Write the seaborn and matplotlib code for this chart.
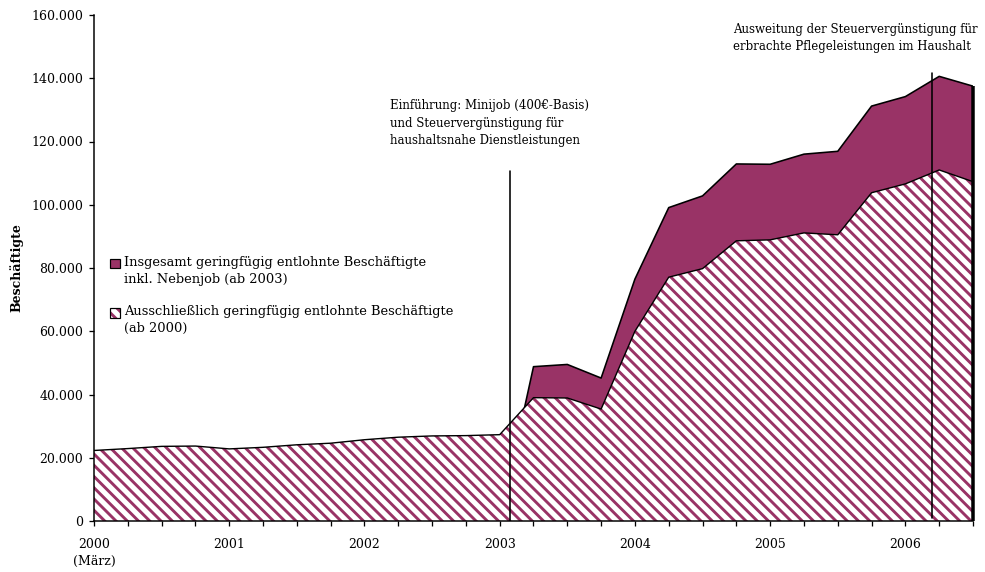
import numpy as np
import pandas as pd
import matplotlib
matplotlib.use("Agg")
import matplotlib.pyplot as plt
import matplotlib.colors as mcolors
from matplotlib.patches import Patch, Rectangle
from matplotlib.legend_handler import HandlerPatch
from matplotlib.ticker import FixedLocator, FuncFormatter
import seaborn as sns

# ---------------- data ----------------
quarters = [str(p) for p in pd.period_range("2000Q1", "2006Q3", freq="Q")]
ausschliesslich = [22300, 22900, 23600, 23700, 22800, 23300, 24100, 24600,
                   25700, 26500, 26900, 27000, 27300, 39000, 38900, 35400,
                   60000, 77100, 79800, 88600, 88900, 91100, 90500, 103800,
                   106600, 111000, 107300]
# total incl. side jobs, only from 2003 (first 2003 value plotted as 0 as in the source)
insgesamt = [np.nan] * 12 + [0, 48800, 49500, 45200, 76500, 99100, 102800,
                             112900, 112800, 116000, 116900, 131200, 134200,
                             140600, 137500]
year_labels = ["2000\n(März)", "2001", "2002", "2003", "2004", "2005", "2006"]
yticks = [0, 20000, 40000, 60000, 80000, 100000, 120000, 140000, 160000]
label_total = "Insgesamt geringfügig entlohnte Beschäftigte\ninkl. Nebenjob (ab 2003)"
label_excl = "Ausschließlich geringfügig entlohnte Beschäftigte\n(ab 2000)"
note1 = "Einführung: Minijob (400€-Basis)\nund Steuervergünstigung für\nhaushaltsnahe Dienstleistungen"
note2 = "Ausweitung der Steuervergünstigung für\nerbrachte Pflegeleistungen im Haushalt"
event_minijob = 2003.075
event_pflege = 2006.2

PLUM = "#993366"

# ---------------- style ----------------
DPI = 135
sns.set_theme(style="white")
plt.rcParams["font.family"] = ["DejaVu Serif"]
plt.rcParams["text.color"] = "black"
plt.rcParams["axes.labelcolor"] = "black"
plt.rcParams["hatch.linewidth"] = 1.55
plt.rcParams["hatch.color"] = PLUM

def px(v):
    return v * 72.0 / DPI

FS_TICK = px(12.5)
FS_NOTE = px(11.8)
FS_LEG = px(13.0)

per = pd.PeriodIndex(quarters, freq="Q")
x = per.year + (per.quarter - 1) / 4.0
df = pd.DataFrame({"x": x, "excl": ausschliesslich, "total": insgesamt})

fig = plt.figure(figsize=(985 / DPI, 572 / DPI), dpi=DPI)
ax = fig.add_axes([94 / 985, 1 - 521 / 572, (973 - 94) / 985, (521 - 15) / 572])

# total area (behind)
mt = df["total"].notna()
ax.fill_between(df["x"][mt], 0, df["total"][mt], facecolor=PLUM, edgecolor="none",
                linewidth=0, zorder=1)
sns.lineplot(data=df[mt], x="x", y="total", color="black", linewidth=px(1.6),
             ax=ax, zorder=2, legend=False)
# hatched area (front)
ax.fill_between(df["x"], 0, df["excl"], facecolor="white", edgecolor=PLUM,
                hatch="\\" * 4, linewidth=0, zorder=3)
sns.lineplot(data=df, x="x", y="excl", color="black", linewidth=px(1.4),
             ax=ax, zorder=4, legend=False)
# thick right edge of the area
xe = df["x"].iloc[-1]
ax.plot([xe, xe], [0, df["total"].iloc[-1]], color="black", linewidth=px(3.5),
        solid_capstyle="butt", zorder=5, clip_on=False)

# event lines
ax.plot([event_minijob, event_minijob], [0, 110700],
        color="black", linewidth=px(1.6), zorder=6)
ax.plot([event_pflege, event_pflege], [1000, 141700],
        color="black", linewidth=px(1.6), zorder=6)

ax.text(2002.19, 133300, note1, fontsize=FS_NOTE, va="top", ha="left",
        linespacing=1.45, zorder=7)
ax.text(2004.727, 157600, note2, fontsize=FS_NOTE, va="top", ha="left",
        linespacing=1.45, zorder=7)

# axes
ax.set_xlim(2000, 2006.5)
ax.set_ylim(0, 160000)
for s in ["top", "right"]:
    ax.spines[s].set_visible(False)
for s in ["left", "bottom"]:
    ax.spines[s].set_color("black")
    ax.spines[s].set_linewidth(px(1.5))
    ax.spines[s].set_zorder(8)

ax.set_xticks(list(range(2000, 2007)))
ax.set_xticklabels(year_labels)
ax.xaxis.set_minor_locator(FixedLocator(list(df["x"])))
ax.set_yticks(yticks)
ax.yaxis.set_major_formatter(FuncFormatter(lambda v, p: f"{int(v):,}".replace(",", ".")))
ax.tick_params(axis="both", which="both", direction="out", color="black",
               width=px(1.3), labelsize=FS_TICK, labelcolor="black")
ax.tick_params(axis="x", which="both", length=px(5), pad=px(12))
ax.tick_params(axis="y", which="major", length=px(5), pad=px(6))
ax.tick_params(bottom=True, left=True, which="both")
ax.tick_params(axis="y", which="minor", left=False)
for lab in ax.get_xticklabels():
    lab.set_linespacing(1.35)

ax.set_xlabel("")
ax.set_ylabel("Beschäftigte", fontsize=FS_TICK, fontweight="bold")
ax.yaxis.set_label_coords(-(94 - 23) / (973 - 94), 0.5)

# legend: handle aligned with the first line of each two-line label
def first_line_box(legend, orig_handle, xdescent, ydescent, width, height, fontsize):
    shift = 0.6 * fontsize
    return Rectangle((-xdescent, -ydescent + shift), width, height)

h_total = Patch(facecolor=PLUM, edgecolor="black", linewidth=px(1.2))
h_excl = Patch(facecolor="white", edgecolor="black", linewidth=px(1.2), hatch="\\" * 4)
h_excl._hatch_color = mcolors.to_rgba(PLUM)
hm = {h_total: HandlerPatch(patch_func=first_line_box),
      h_excl: HandlerPatch(patch_func=first_line_box)}
leg = ax.legend([h_total, h_excl], [label_total, label_excl], loc="upper left",
                bbox_to_anchor=(110 / 985, 1 - 256 / 572), bbox_transform=fig.transFigure,
                frameon=False, fontsize=FS_LEG, handlelength=0.78, handleheight=0.78,
                handletextpad=0.3, labelspacing=1.5, borderaxespad=0, borderpad=0,
                handler_map=hm)
for t in leg.get_texts():
    t.set_linespacing(1.37)
    t.set_color("black")

fig.savefig("out.png", dpi=DPI)
